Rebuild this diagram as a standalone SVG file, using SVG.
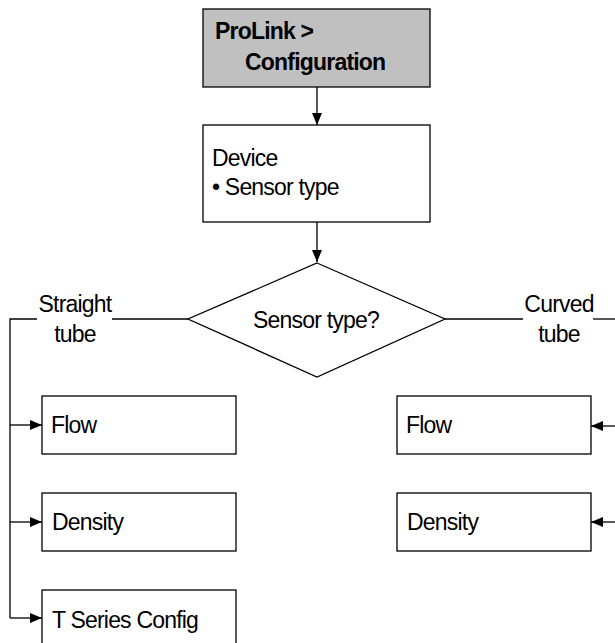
<svg xmlns="http://www.w3.org/2000/svg" width="615" height="643" viewBox="0 0 615 643">
<style>
.box{fill:#fff;stroke:#000;stroke-width:1.3}
.hdr{fill:#c0c0c0;stroke:#000;stroke-width:1.3}
.ln{fill:none;stroke:#000;stroke-width:1.3}
text{font-family:"Liberation Sans",Arial,sans-serif;font-size:23px;fill:#000;letter-spacing:-0.8px}
.b{font-weight:bold}
.m{text-anchor:middle}
</style>
<defs>
<marker id="ah" viewBox="0 0 12 10" refX="12" refY="5" markerWidth="12" markerHeight="10" markerUnits="userSpaceOnUse" orient="auto">
<path d="M0,0 L12,5 L0,10 Z" fill="#000"/>
</marker>
</defs>
<rect width="615" height="643" fill="#fff"/>
<g id="connectors">
<line class="ln" x1="317" y1="87" x2="317" y2="125" marker-end="url(#ah)"/>
<line class="ln" x1="317" y1="222" x2="317" y2="262" marker-end="url(#ah)"/>
<polyline class="ln" points="37,319 10,319 10,618"/>
<line class="ln" x1="112" y1="319" x2="188" y2="319"/>
<line class="ln" x1="10" y1="425" x2="42" y2="425" marker-end="url(#ah)"/>
<line class="ln" x1="10" y1="522" x2="42" y2="522" marker-end="url(#ah)"/>
<line class="ln" x1="10" y1="618" x2="42" y2="618" marker-end="url(#ah)"/>
<line class="ln" x1="445" y1="319" x2="523" y2="319"/>
<line class="ln" x1="593" y1="319" x2="615" y2="319"/>
<line class="ln" x1="615" y1="426" x2="591" y2="426" marker-end="url(#ah)"/>
<line class="ln" x1="615" y1="522" x2="591" y2="522" marker-end="url(#ah)"/>
<text class="m" x="75" y="312">Straight</text>
<text class="m" x="75" y="342">tube</text>
<text class="m" x="559" y="312">Curved</text>
<text class="m" x="559" y="342">tube</text>
</g>
<g id="prolink">
<rect class="hdr" x="203" y="9" width="227" height="78"/>
<text class="b" x="215" y="39">ProLink &gt;</text>
<text class="b" x="245" y="70">Configuration</text>
</g>
<g id="device">
<rect class="box" x="203" y="125" width="227" height="97"/>
<text x="212" y="166">Device</text>
<text x="212" y="195">• Sensor type</text>
</g>
<g id="decision">
<polygon class="box" points="317,263 445,319 317,377 188,319"/>
<text class="m" x="316" y="328">Sensor type?</text>
</g>
<g id="flow-straight">
<rect class="box" x="42" y="396" width="194" height="58"/>
<text x="51" y="433">Flow</text>
</g>
<g id="density-straight">
<rect class="box" x="42" y="493" width="194" height="58"/>
<text x="52" y="530">Density</text>
</g>
<g id="tseries">
<rect class="box" x="42" y="590" width="194" height="60"/>
<text x="52" y="628">T Series Config</text>
</g>
<g id="flow-curved">
<rect class="box" x="397" y="396" width="194" height="58"/>
<text x="406" y="433">Flow</text>
</g>
<g id="density-curved">
<rect class="box" x="397" y="493" width="194" height="58"/>
<text x="407" y="530">Density</text>
</g>
</svg>
